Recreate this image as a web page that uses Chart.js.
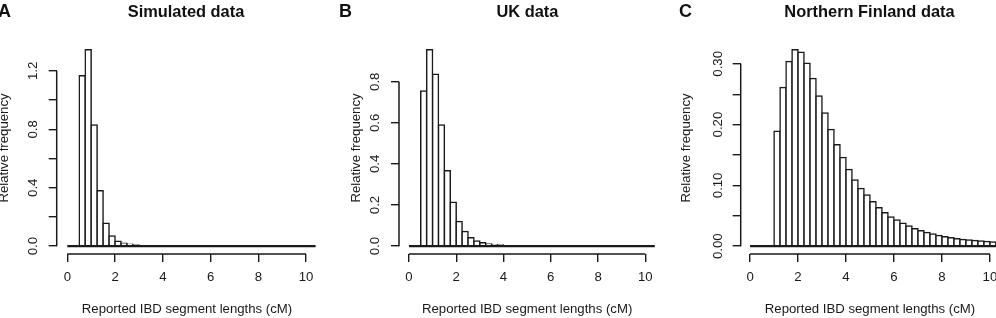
<!DOCTYPE html>
<html><head><meta charset="utf-8">
<script src="https://cdn.jsdelivr.net/npm/chart.js@4.4.1/dist/chart.umd.min.js"></script>
<style>
html,body{margin:0;padding:0;background:#fff;width:996px;height:318px;overflow:hidden;position:relative;}
canvas{position:absolute;top:0;}
.t{position:absolute;font-family:"Liberation Sans",Arial,Helvetica,sans-serif;font-weight:bold;color:#111;white-space:nowrap;line-height:1;}
.ttl{font-size:16.4px;width:400px;text-align:center;top:3.4px;}
.let{font-size:18px;top:1.5px;}
</style></head><body>
<canvas id="cA" width="330" height="318" style="left:0px"></canvas>
<canvas id="cB" width="330" height="318" style="left:330px"></canvas>
<canvas id="cC" width="350" height="318" style="left:660px"></canvas>
<div class="t let" style="left:-2px">A</div>
<div class="t let" style="left:339px">B</div>
<div class="t let" style="left:679px">C</div>
<div class="t ttl" style="left:-14px">Simulated data</div>
<div class="t ttl" style="left:327.4px">UK data</div>
<div class="t ttl" style="left:669.5px">Northern Finland data</div>
<script>
// ---------------- data ----------------
const binWidth = 0.25;

const simulatedStart = 0.5;
const simulatedDensity = [1.166, 1.344, 0.830, 0.380, 0.156, 0.070, 0.033, 0.020, 0.013, 0.008, 0.004, 0.002, 0.001];
const simulatedEnd = 10.4;

const ukStart = 0.5;
const ukDensity = [0.755, 0.955, 0.836, 0.589, 0.367, 0.213, 0.120, 0.071, 0.041, 0.025, 0.016, 0.011, 0.007, 0.005, 0.003, 0.002, 0.001];
const ukEnd = 10.4;

const finlandStart = 1.0;
const finlandDensity = [0.189, 0.261, 0.304, 0.323, 0.319, 0.301, 0.276, 0.247, 0.219, 0.192, 0.167, 0.146, 0.126, 0.109, 0.095, 0.084, 0.073, 0.063, 0.055, 0.048, 0.043, 0.0375, 0.033, 0.0288, 0.0255, 0.0226, 0.0200, 0.0175, 0.0155, 0.0138, 0.0123, 0.0111, 0.0100, 0.0092, 0.0083, 0.0076, 0.0070, 0.0064];
const finlandEnd = 10.5;

const xTicks = [0, 2, 4, 6, 8, 10];
const xTickLabels = ['0', '2', '4', '6', '8', '10'];

const simulatedYTicks = [0, 0.2, 0.4, 0.6, 0.8, 1.0, 1.2];
const simulatedYLabels = ['0.0', '', '0.4', '', '0.8', '', '1.2'];
const ukYTicks = [0, 0.2, 0.4, 0.6, 0.8];
const ukYLabels = ['0.0', '0.2', '0.4', '0.6', '0.8'];
const finlandYTicks = [0, 0.05, 0.10, 0.15, 0.20, 0.25, 0.30];
const finlandYLabels = ['0.00', '', '0.10', '', '0.20', '', '0.30'];

const xTitle = 'Reported IBD segment lengths (cM)';
const yTitle = 'Relative frequency';

// ---------------- styling ----------------
const INK = '#1a1a1a';
const FONT = '"Liberation Sans", Arial, Helvetica, sans-serif';
const FS = 13.2;

const rAxes = {
  id: 'rAxes',
  afterDraw(chart, args, opts) {
    const {ctx, chartArea, scales} = chart;
    const x = scales.x, y = scales.y;
    ctx.save();
    ctx.strokeStyle = INK;
    ctx.lineWidth = 1.5;
    ctx.beginPath();
    ctx.moveTo(x.getPixelForValue(opts.xTicks[0]), chartArea.bottom);
    ctx.lineTo(x.getPixelForValue(opts.xTicks[opts.xTicks.length - 1]), chartArea.bottom);
    ctx.moveTo(chartArea.left, y.getPixelForValue(opts.yTicks[0]));
    ctx.lineTo(chartArea.left, y.getPixelForValue(opts.yTicks[opts.yTicks.length - 1]));
    ctx.stroke();
    ctx.restore();
  }
};

function panel(id, p) {
  const bars = p.density.map((d, i) => ({x: p.start + (i + 0.5) * binWidth, y: d}));
  const ymax = Math.max(...p.density);
  new Chart(document.getElementById(id), {
    type: 'bar',
    data: {
      datasets: [
        {
          type: 'line', order: 0,
          data: [{x: 0, y: 0}, {x: p.end, y: 0}],
          borderColor: INK, borderWidth: 2.2, pointRadius: 0, fill: false
        },
        {
          type: 'bar', order: 1,
          data: bars,
          backgroundColor: '#ffffff', borderColor: INK, borderWidth: 1.5,
          inflateAmount: 0.75, borderSkipped: 'start',
          barPercentage: 1, categoryPercentage: 1
        }
      ]
    },
    options: {
      responsive: false, animation: false, events: [],
      layout: {padding: {top: 42, left: 0, bottom: 0, right: p.canvasW - p.chartRight}},
      plugins: {legend: {display: false}, tooltip: {enabled: false}, rAxes: {xTicks: xTicks, yTicks: p.yTicks}},
      scales: {
        x: {
          type: 'linear', min: p.xmin, max: p.xmax, offset: false,
          afterFit: s => { s.height = 64; },
          afterBuildTicks: s => { s.ticks = xTicks.map(v => ({value: v})); },
          grid: {display: true, offset: false, drawOnChartArea: false, drawTicks: true, tickLength: 8, color: INK, lineWidth: 1.4},
          border: {display: false},
          ticks: {autoSkip: false, maxRotation: 0, padding: 7.2, color: INK,
                  font: {family: FONT, size: FS}, callback: (v, i) => xTickLabels[i]},
          title: {display: true, text: xTitle, color: INK, font: {family: FONT, size: FS}, padding: {top: 0, bottom: 1}}
        },
        y: {
          type: 'linear', min: -0.04 * ymax, max: 1.04 * ymax,
          afterFit: s => { s.width = p.chartLeft; },
          afterBuildTicks: s => { s.ticks = p.yTicks.map(v => ({value: v})); },
          grid: {display: true, drawOnChartArea: false, drawTicks: true, tickLength: 8, color: INK, lineWidth: 1.4},
          border: {display: false},
          ticks: {autoSkip: false, minRotation: 90, maxRotation: 90, crossAlign: 'center', padding: p.yPad, color: INK,
                  font: {family: FONT, size: FS}, callback: (v, i) => p.yLabels[i]},
          title: {display: true, text: yTitle, color: INK, font: {family: FONT, size: FS}, padding: {top: p.yTitlePad, bottom: 0}}
        }
      }
    },
    plugins: [rAxes]
  });
}

panel('cA', {start: simulatedStart, density: simulatedDensity, end: simulatedEnd,
  yTicks: simulatedYTicks, yLabels: simulatedYLabels,
  xmin: -0.444, xmax: 10.47, chartLeft: 56.7, chartRight: 317.3, canvasW: 330, yPad: 6.2, yTitlePad: -3.4});
panel('cB', {start: ukStart, density: ukDensity, end: ukEnd,
  yTicks: ukYTicks, yLabels: ukYLabels,
  xmin: -0.42, xmax: 10.42, chartLeft: 69, chartRight: 327, canvasW: 330, yPad: 6.2, yTitlePad: 18.1});
panel('cC', {start: finlandStart, density: finlandDensity, end: finlandEnd,
  yTicks: finlandYTicks, yLabels: finlandYLabels,
  xmin: -0.39, xmax: 10.39, chartLeft: 80.7, chartRight: 339.3, canvasW: 350, yPad: 1.5, yTitlePad: 18.6});
</script>
</body></html>
